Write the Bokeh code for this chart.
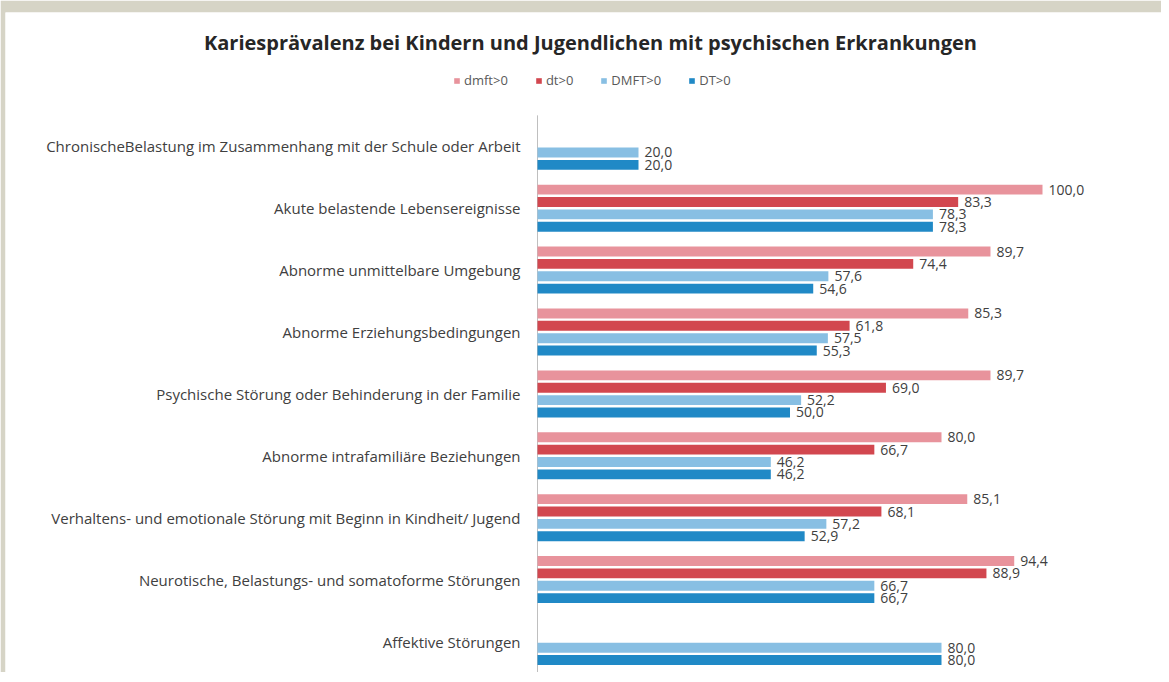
from bokeh.plotting import figure
from bokeh.models import ColumnDataSource, Range1d, Legend, LegendItem, Label
from bokeh.transform import dodge
from bokeh.core.properties import value
from bokeh.embed import file_html
from bokeh.resources import INLINE

title_text = "Kariesprävalenz bei Kindern und Jugendlichen mit psychischen Erkrankungen"
categories = [
    "ChronischeBelastung im Zusammenhang mit der Schule oder Arbeit",
    "Akute belastende Lebensereignisse",
    "Abnorme unmittelbare Umgebung",
    "Abnorme Erziehungsbedingungen",
    "Psychische Störung oder Behinderung in der Familie",
    "Abnorme intrafamiliäre Beziehungen",
    "Verhaltens- und emotionale Störung mit Beginn in Kindheit/ Jugend",
    "Neurotische, Belastungs- und somatoforme Störungen",
    "Affektive Störungen",
]
series_names = ["dmft>0", "dt>0", "DMFT>0", "DT>0"]
dmft = [None, 100.0, 89.7, 85.3, 89.7, 80.0, 85.1, 94.4, None]
dt = [None, 83.3, 74.4, 61.8, 69.0, 66.7, 68.1, 88.9, None]
DMFT = [20.0, 78.3, 57.6, 57.5, 52.2, 46.2, 57.2, 66.7, 80.0]
DT = [20.0, 78.3, 54.6, 55.3, 50.0, 46.2, 52.9, 66.7, 80.0]
series_values = [dmft, dt, DMFT, DT]
colors = ["#e8939c", "#d2474f", "#88bfe3", "#2089c6"]
offsets = [-0.3, -0.1, 0.1, 0.3]   # y grows downward

FONT = "Open Sans"
BEIGE = "#d6d4c6"

# layout geometry (pixels on the page)
W, H = 1161, 672
LEFT, TOP = 5, 12            # beige page strips
ZERO_PX = 537                # where value 0 sits
PX_PER_UNIT = 5.05           # horizontal pixels per percent
ROW_PX = 61.9                # vertical pixels per category
FIRST_ROW_PX = 145.8         # centre of first category

n = len(categories)
x_start = -(ZERO_PX - LEFT) / PX_PER_UNIT
x_end = (W - ZERO_PX) / PX_PER_UNIT
y_top = -(FIRST_ROW_PX - TOP) / ROW_PX
y_bottom = (n - 1) + (H - (FIRST_ROW_PX + (n - 1) * ROW_PX)) / ROW_PX

p = figure(width=W, height=H,
           x_range=Range1d(x_start, x_end), y_range=Range1d(y_bottom, y_top),
           x_axis_type=None, y_axis_type=None,
           min_border_left=LEFT, min_border_top=TOP, min_border_right=0, min_border_bottom=0,
           output_backend="svg", toolbar_location=None)
p.outline_line_color = None
p.grid.visible = False
p.border_fill_color = BEIGE
p.background_fill_color = "white"

idx = list(range(n))

# category axis line and labels
p.segment(x0=0, x1=0, y0=-0.5, y1=n - 0.5, line_color="#bfbfbf", line_width=1)
cat_src = ColumnDataSource(dict(idx=idx, cat=categories))
p.text(x=0, y="idx", text="cat", source=cat_src, x_offset=-17,
       text_align="right", text_baseline="middle",
       text_font=value(FONT), text_font_size="15px", text_color="#404040")

items = []
for name, vals, col, off in zip(series_names, series_values, colors, offsets):
    ii = [i for i, v in zip(idx, vals) if v is not None]
    vs = [v for v in vals if v is not None]
    labels = [f"{v:.1f}".replace(".", ",") for v in vs]
    src = ColumnDataSource(dict(idx=ii, val=vs, lab=labels))
    r = p.hbar(y=dodge("idx", off), right="val", left=0, height=0.16,
               source=src, fill_color=col, line_color=None)
    p.text(x="val", y=dodge("idx", off), text="lab", source=src,
           x_offset=6, text_baseline="middle", text_align="left",
           text_font=value(FONT), text_font_size="14px", text_color="#404040")
    items.append(LegendItem(label=name, renderers=[r]))

legend = Legend(items=items, orientation="horizontal", location=(448, H - TOP - 77),
                border_line_color=None, background_fill_alpha=0,
                label_text_font=FONT, label_text_font_size="13px", label_text_color="#595959",
                glyph_width=7, glyph_height=7, label_standoff=4, spacing=27,
                padding=5, margin=0)
p.add_layout(legend, "center")

p.add_layout(Label(x=(590 - ZERO_PX) / PX_PER_UNIT, y=(42 - FIRST_ROW_PX) / ROW_PX,
                   text=title_text, text_align="center", text_baseline="middle",
                   text_font=FONT, text_font_size="20px", text_font_style="bold",
                   text_color="#262626"))

open("out.html", "w").write(file_html(p, INLINE))
